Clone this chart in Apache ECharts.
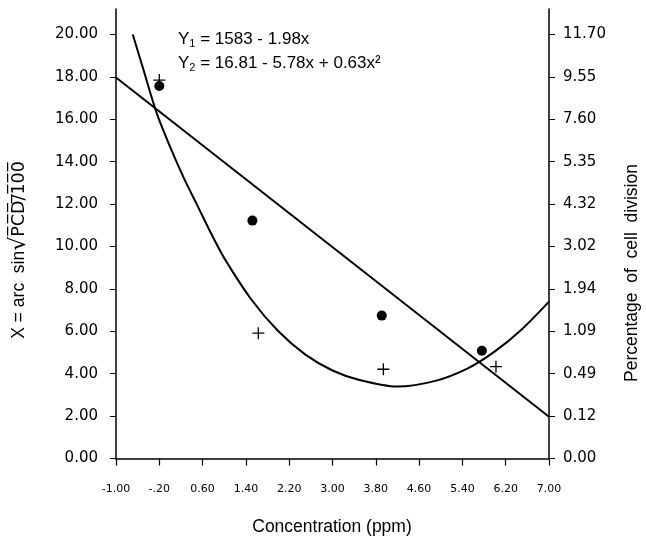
<!DOCTYPE html>
<html>
<head>
  <meta charset="UTF-8" />
  <title>Concentration vs cell division</title>
  <script src="https://cdn.jsdelivr.net/npm/echarts@6/dist/echarts.min.js"></script>
  <style>
    html, body { margin: 0; height: 100%; background: #fff; }
    #chart { width: 646px; height: 541px; }
  </style>
</head>
<body>
  <div id="chart"></div>
  <script>
    // tick values / labels
    const xTickValues = [-1, -0.2, 0.6, 1.4, 2.2, 3.0, 3.8, 4.6, 5.4, 6.2, 7];
    const xTickLabels = ['-1.00', '-.20', '0.60', '1.40', '2.20', '3.00', '3.80', '4.60', '5.40', '6.20', '7.00'];
    const yTickValues = [0, 2, 4, 6, 8, 10, 12, 14, 16, 18, 20];
    const rightLabels = ['0.00', '0.12', '0.49', '1.09', '1.94', '3.02', '4.32', '5.35', '7.60', '9.55', '11.70'];

    // observed points (x = concentration, y = arc sin transform)
    const dotPoints = [[-0.2, 17.57], [1.52, 11.22], [3.91, 6.74], [5.76, 5.08]];
    const plusPoints = [[-0.2, 17.85], [1.63, 5.91], [3.94, 4.21], [6.02, 4.33]];

    // fitted lines
    const linearFit = [[-1, 17.97], [7, 1.97]];
    const quadFit = [
      [-0.69, 20.0], [-0.5, 18.4], [-0.25, 16.3], [0, 14.7], [0.25, 13.25], [0.5, 11.95],
      [0.75, 10.65], [1.0, 9.45], [1.5, 7.5], [2.0, 6.0], [2.5, 4.9], [3.0, 4.15],
      [3.5, 3.7], [4.2, 3.39], [4.9, 3.66], [5.5, 4.25], [6.0, 5.05],
      [6.5, 6.1], [7.0, 7.4]
    ];

    const chart = echarts.init(document.getElementById('chart'));

    const tickFont = { color: '#000', fontFamily: 'DejaVu Sans', fontSize: 15 };
    const plusPath = 'path://M0,5 L10,5 M5,0 L5,10';

    chart.setOption({
      backgroundColor: '#fff',
      animation: false,
      grid: { left: 116, right: 97, top: 9, bottom: 82.5, outerBoundsMode: 'none' },
      xAxis: {
        type: 'value', min: -1, max: 7,
        axisLine: { onZero: false, lineStyle: { color: '#000', width: 1.5 } },
        axisTick: { customValues: xTickValues, length: 7, lineStyle: { color: '#000', width: 1.2 } },
        axisLabel: {
          customValues: xTickValues, margin: 25, color: '#000', fontFamily: 'DejaVu Sans', fontSize: 11,
          formatter: v => {
            const i = xTickValues.findIndex(t => Math.abs(t - v) < 1e-6);
            return i >= 0 ? xTickLabels[i] : '';
          }
        },
        splitLine: { show: false }
      },
      yAxis: [
        {
          type: 'value', min: 0, max: 21.2, position: 'left',
          axisLine: { show: true, onZero: false, lineStyle: { color: '#000', width: 1.5 } },
          axisTick: { show: true, customValues: yTickValues, length: 6, lineStyle: { color: '#000', width: 1 } },
          axisLabel: Object.assign({ customValues: yTickValues, margin: 18, formatter: v => v.toFixed(2) }, tickFont),
          splitLine: { show: false }
        },
        {
          type: 'value', min: 0, max: 21.2, position: 'right',
          axisLine: { show: true, onZero: false, lineStyle: { color: '#000', width: 1.5 } },
          axisTick: { show: true, customValues: yTickValues, length: 6, lineStyle: { color: '#000', width: 1 } },
          axisLabel: Object.assign({
            customValues: yTickValues, margin: 14,
            formatter: v => rightLabels[Math.round(v / 2)] || ''
          }, tickFont),
          splitLine: { show: false }
        }
      ],
      graphic: [
        {
          type: 'text', left: 178, top: 31,
          style: {
            text: 'Y{s|1} = 1583 - 1.98x',
            font: '17px "Liberation Sans"', fill: '#000',
            rich: { s: { fontSize: 11, fontFamily: 'Liberation Sans', verticalAlign: 'bottom', padding: [8, 0, 0, 0] } }
          }
        },
        {
          type: 'text', left: 178, top: 55,
          style: {
            text: 'Y{s|2} = 16.81 - 5.78x + 0.63x²',
            font: '17px "Liberation Sans"', fill: '#000',
            rich: { s: { fontSize: 11, fontFamily: 'Liberation Sans', verticalAlign: 'bottom', padding: [8, 0, 0, 0] } }
          }
        },
        {
          type: 'text', x: 19, y: 250, rotation: Math.PI / 2,
          style: {
            text: 'X = arc  sin{r|√}{o|P̅C̅D̅/̅1̅0̅0̅}',
            font: '17.5px "Liberation Sans"', fill: '#000', align: 'center', verticalAlign: 'middle',
            rich: {
              r: { fontSize: 22, fontFamily: 'DejaVu Sans' },
              o: { fontSize: 17.5, fontFamily: 'DejaVu Sans' }
            }
          }
        },
        {
          type: 'text', x: 632, y: 273, rotation: Math.PI / 2,
          style: {
            text: 'Percentage  of  cell  division',
            font: '17.5px "Liberation Sans"', fill: '#000', align: 'center', verticalAlign: 'middle'
          }
        },
        {
          type: 'text', x: 332, y: 527,
          style: {
            text: 'Concentration (ppm)',
            font: '17.5px "Liberation Sans"', fill: '#000', align: 'center', verticalAlign: 'middle'
          }
        }
      ],
      series: [
        {
          type: 'line', data: linearFit, showSymbol: false, silent: true,
          lineStyle: { color: '#000', width: 2 }
        },
        {
          type: 'line', data: quadFit, showSymbol: false, smooth: 0.3, silent: true,
          lineStyle: { color: '#000', width: 2 }
        },
        {
          type: 'scatter', data: dotPoints, symbol: 'circle', symbolSize: 10,
          itemStyle: { color: '#000', opacity: 1 }
        },
        {
          type: 'scatter', data: plusPoints, symbol: plusPath, symbolSize: 12,
          itemStyle: { color: 'none', borderColor: '#000', borderWidth: 1.3, opacity: 1 }
        }
      ]
    });
  </script>
</body>
</html>
